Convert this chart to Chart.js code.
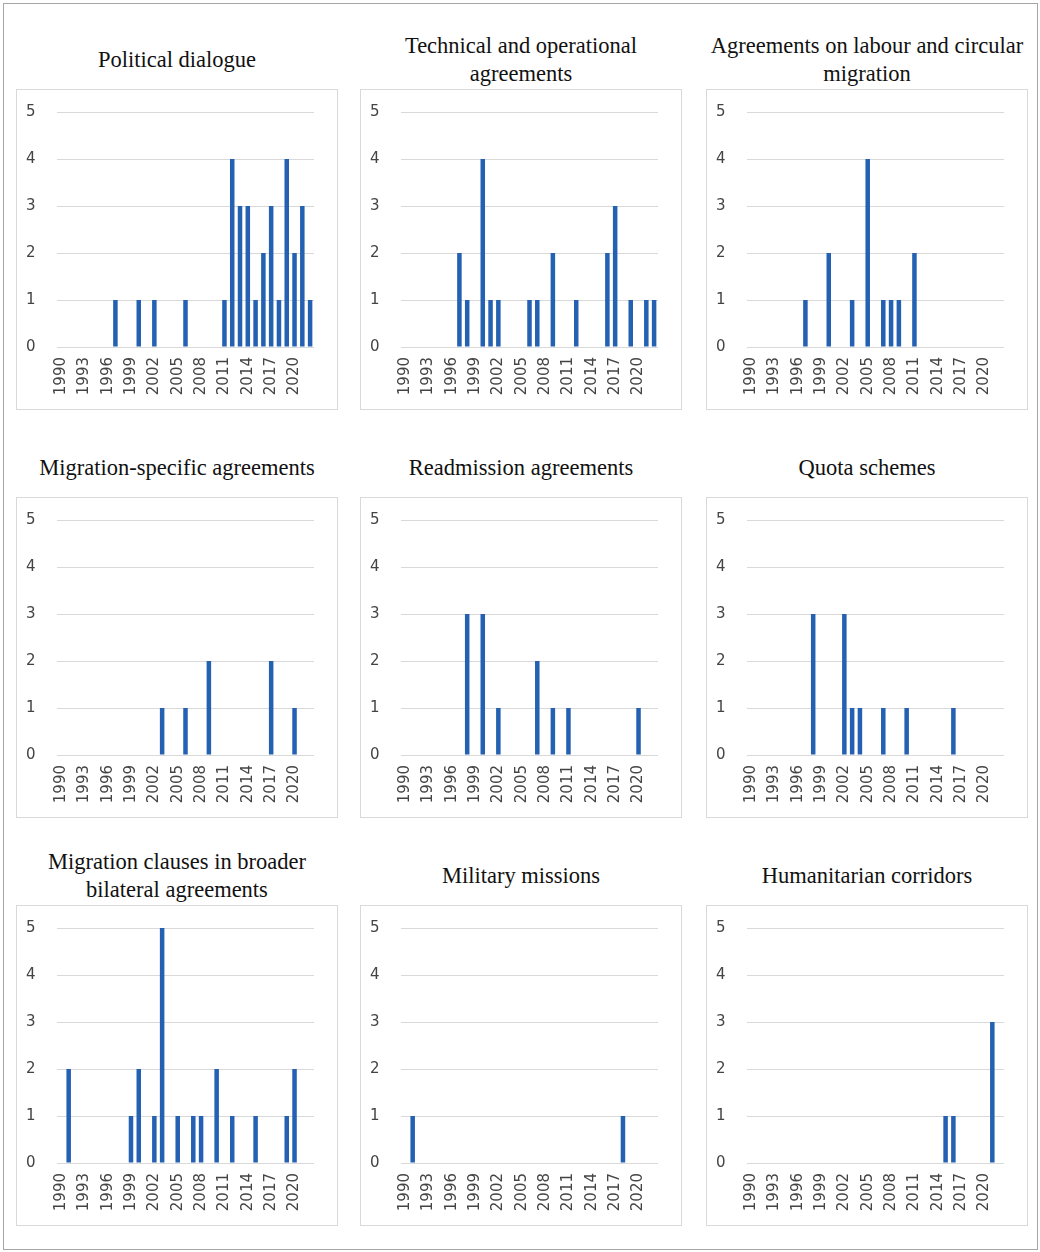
<!DOCTYPE html>
<html lang="en">
<head>
    <meta charset="UTF-8">
    <title>Bilateral cooperation instruments by year</title>
    <script src="https://cdn.jsdelivr.net/npm/chart.js"></script>
    <style>
        body {
            margin: 0;
            background-color: #ffffff;
            font-family: "DejaVu Sans", sans-serif;
        }
        .page {
            position: relative;
            width: 1040px;
            height: 1252px;
            overflow: hidden;
        }
        .frame {
            position: absolute;
            left: 3px;
            top: 3px;
            width: 1033px;
            height: 1245px;
            border: 1px solid #a6a6a6;
        }
        .title {
            position: absolute;
            width: 340px;
            height: 58px;
            display: flex;
            align-items: center;
            justify-content: center;
            text-align: center;
            font-family: "Liberation Serif", "Times New Roman", serif;
            font-size: 22.5px;
            line-height: 28px;
            color: #111111;
            white-space: nowrap;
        }
        .box {
            position: absolute;
            width: 320px;
            height: 319px;
            border: 1px solid #d9d9d9;
        }
    </style>
</head>
<body>

<div class="page" id="page">
    <div class="frame"></div>
    <!-- panels are added by the script below -->
</div>

<script>
    // years on the category axis
    const years = [];
    for (let y = 1990; y <= 2022; y++) years.push(String(y));

    // panel titles
    const titles = [
        'Political dialogue',
        'Technical and operational<br>agreements',
        'Agreements on labour and circular<br>migration',
        'Migration-specific agreements',
        'Readmission agreements',
        'Quota schemes',
        'Migration clauses in broader<br>bilateral agreements',
        'Military missions',
        'Humanitarian corridors'
    ];

    // counts per year, 1990 ... 2022
    const politicalDialogue = [0,0,0,0,0,0,0,1,0,0, 1,0,1,0,0,0,1,0,0,0, 0,1,4,3,3,1,2,3,1,4, 2,3,1];
    const technicalAgreements = [0,0,0,0,0,0,0,2,1,0, 4,1,1,0,0,0,1,1,0,2, 0,0,1,0,0,0,2,3,0,1, 0,1,1];
    const labourAgreements = [0,0,0,0,0,0,0,1,0,0, 2,0,0,1,0,4,0,1,1,1, 0,2,0,0,0,0,0,0,0,0, 0,0,0];
    const migrationSpecific = [0,0,0,0,0,0,0,0,0,0, 0,0,0,1,0,0,1,0,0,2, 0,0,0,0,0,0,0,2,0,0, 1,0,0];
    const readmission = [0,0,0,0,0,0,0,0,3,0, 3,0,1,0,0,0,0,2,0,1, 0,1,0,0,0,0,0,0,0,0, 1,0,0];
    const quotaSchemes = [0,0,0,0,0,0,0,0,3,0, 0,0,3,1,1,0,0,1,0,0, 1,0,0,0,0,0,1,0,0,0, 0,0,0];
    const migrationClauses = [0,2,0,0,0,0,0,0,0,1, 2,0,1,5,0,1,0,1,1,0, 2,0,1,0,0,1,0,0,0,1, 2,0,0];
    const militaryMissions = [0,1,0,0,0,0,0,0,0,0, 0,0,0,0,0,0,0,0,0,0, 0,0,0,0,0,0,0,0,1,0, 0,0,0];
    const humanitarianCorridors = [0,0,0,0,0,0,0,0,0,0, 0,0,0,0,0,0,0,0,0,0, 0,0,0,0,0,1,1,0,0,0, 0,3,0];

    const seriesList = [
        politicalDialogue, technicalAgreements, labourAgreements,
        migrationSpecific, readmission, quotaSchemes,
        migrationClauses, militaryMissions, humanitarianCorridors
    ];

    const colX = [16, 360, 706];
    const rowY = [89, 497, 905];
    const page = document.getElementById('page');

    seriesList.forEach((values, i) => {
        const left = colX[i % 3];
        const top = rowY[Math.floor(i / 3)];

        const title = document.createElement('div');
        title.className = 'title';
        title.style.left = (left + 161 - 170) + 'px';
        title.style.top = (top - 58) + 'px';
        title.innerHTML = titles[i];
        page.appendChild(title);

        const box = document.createElement('div');
        box.className = 'box';
        box.style.left = left + 'px';
        box.style.top = top + 'px';
        const canvas = document.createElement('canvas');
        box.appendChild(canvas);
        page.appendChild(box);

        new Chart(canvas, {
            type: 'bar',
            data: {
                labels: years,
                datasets: [{
                    data: values,
                    backgroundColor: '#2461b3',
                    barPercentage: 0.58,
                    categoryPercentage: 1.0
                }]
            },
            options: {
                responsive: true,
                maintainAspectRatio: false,
                animation: false,
                layout: { padding: { top: 22, right: 23, left: 9, bottom: 0 } },
                plugins: { legend: { display: false }, tooltip: { enabled: false } },
                scales: {
                    x: {
                        afterFit: s => { s.height = 62; },
                        grid: { display: false, drawTicks: false },
                        border: { display: false },
                        ticks: {
                            autoSkip: false,
                            minRotation: 90,
                            maxRotation: 90,
                            padding: 10,
                            color: '#444444',
                            font: { family: 'DejaVu Sans', size: 15, lineHeight: 1 },
                            callback: (v, idx) => (idx % 3 === 0 && idx <= 30) ? years[idx] : ''
                        }
                    },
                    y: {
                        min: 0,
                        max: 5,
                        afterFit: s => { s.width = 31; },
                        border: { display: false },
                        grid: { color: '#d9d9d9', lineWidth: 1, drawTicks: false },
                        ticks: {
                            stepSize: 1,
                            padding: 0,
                            crossAlign: 'far',
                            color: '#444444',
                            font: { family: 'DejaVu Sans', size: 15 }
                        }
                    }
                }
            }
        });
    });
</script>

</body>
</html>
